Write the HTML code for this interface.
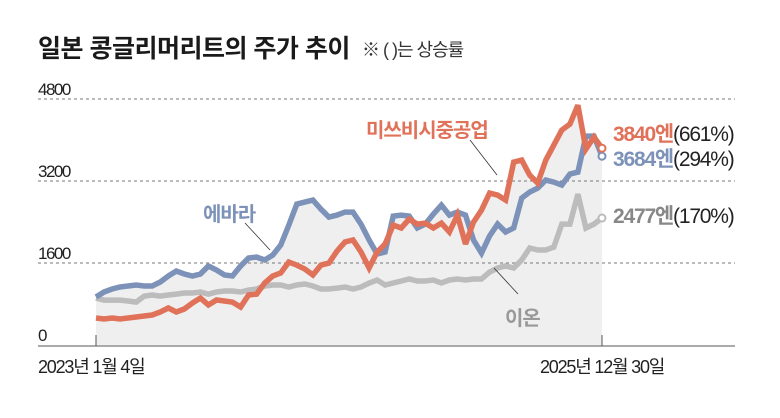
<!DOCTYPE html>
<html><head><meta charset="utf-8">
<style>
body{margin:0;background:#fff;}
svg{display:block;font-family:"Liberation Sans","Noto Sans CJK KR",sans-serif;}
</style></head>
<body>
<svg id="chart" width="780" height="418" viewBox="0 0 780 418" xmlns="http://www.w3.org/2000/svg">
<text x="38" y="57" font-size="25" font-weight="bold" fill="#1a1a1a" letter-spacing="-0.5">일본 콩글리머리트의 주가 추이</text>
<text x="362" y="56" font-size="18" fill="#333" letter-spacing="-1">※ ( )는 상승률</text>
<g id="plot"></g>
</svg>
<script>
const yTicks=[0,1600,3200,4800];
const dates=["2023년 1월 4일","2025년 12월 30일"];
// pixel-read stock values (yen), 64 samples over period
const ebara=[936,1034,1092,1131,1151,1170,1151,1151,1229,1346,1443,1385,1346,1385,1541,1463,1365,1346,1541,1697,1716,1658,1755,1950,2340,2750,2789,2828,2652,2496,2535,2594,2594,2360,2048,1775,1814,2516,2535,2516,2282,2360,2555,2730,2535,2594,2535,2048,1794,2126,2360,2204,2282,2867,2984,3062,3218,3179,3120,3335,3374,4076,4076,3684];
const mitsubishi=[526,507,526,507,526,546,565,585,644,722,644,702,819,917,780,878,858,838,741,975,994,1209,1346,1404,1618,1560,1482,1365,1560,1599,1833,2009,2048,1814,1502,1814,1970,2340,2282,2457,2360,2379,2282,2379,2204,2535,1970,2399,2633,2964,2925,2828,3569,3608,3315,3159,3608,3900,4193,4310,4680,3822,4056,3840];
const aeon=[916,877,877,877,858,838,955,975,955,975,994,1014,1014,1034,994,1034,1053,1053,1034,1072,1092,1151,1170,1170,1131,1170,1190,1151,1092,1092,1111,1131,1092,1131,1209,1268,1170,1209,1248,1287,1248,1248,1268,1209,1268,1287,1268,1287,1287,1424,1502,1541,1502,1658,1892,1853,1853,1911,2360,2360,2945,2282,2360,2477];
const seriesColors={ebara:"#7d92b8",mitsubishi:"#e0725a",aeon:"#bcbcbc"};

const svgNS="http://www.w3.org/2000/svg";
const plot=document.getElementById('plot');
const X0=96,X1=602,Y0=345,YTOP=99,VMAX=4800;
const n=ebara.length;
function xs(i){return X0+(X1-X0)*i/(n-1);}
function ys(v){return Y0-(Y0-YTOP)*v/VMAX;}
function mk(tag,attrs){const e=document.createElementNS(svgNS,tag);for(const k in attrs)e.setAttribute(k,attrs[k]);plot.appendChild(e);return e;}

let pts=[];
for(let i=0;i<n;i++)pts.push(xs(i)+","+ys(Math.max(ebara[i],mitsubishi[i])));
pts.push(xs(n-1)+","+Y0);pts.push(xs(0)+","+Y0);
const area=mk('polygon',{points:pts.join(' '),fill:"#efefef"});



yTicks.forEach(function(t){
  if(t>0){
    const g=mk('line',{x1:38,x2:735,y1:ys(t),y2:ys(t),stroke:"#777","stroke-width":1,"stroke-dasharray":"3,3"});
    
    
  }
  const tx=mk('text',{x:38,y:ys(t)-4,"font-size":17,fill:"#222","letter-spacing":"-1.5"});
  tx.textContent=t;
  
  
});
const ax=mk('line',{x1:38,x2:735,y1:Y0+1,y2:Y0+1,stroke:"#555","stroke-width":1});


[0,n-1].forEach(function(i){
  const tk=mk('line',{x1:xs(i),x2:xs(i),y1:Y0-10,y2:Y0+1,stroke:"#555","stroke-width":1});
  
  
});
const d1=mk('text',{x:38,y:373,"font-size":18,fill:"#222","letter-spacing":"-1.2"});d1.textContent=dates[0];


const d2=mk('text',{x:540,y:373,"font-size":18,fill:"#222","letter-spacing":"-1.2"});d2.textContent=dates[1];



function line(data,color,name){
  let d="";
  for(let i=0;i<n;i++)d+=(i?"L":"M")+xs(i).toFixed(1)+","+ys(data[i]).toFixed(1);
  const p=mk('path',{d:d,fill:"none",stroke:color,"stroke-width":5.5,"stroke-linejoin":"miter","stroke-miterlimit":3});
  
  
  const c=mk('circle',{cx:xs(n-1),cy:ys(data[n-1]),r:3.5,fill:"#fff",stroke:color,"stroke-width":2});
  
  
}
line(aeon,seriesColors.aeon,'aeon');
line(ebara,seriesColors.ebara,'ebara');
line(mitsubishi,seriesColors.mitsubishi,'mitsubishi');

function label(x,y,txt,color,size,name,weight){
  const t=mk('text',{x:x,y:y,"font-size":size,fill:color,"letter-spacing":"-1","font-weight":weight||"normal"});
  t.textContent=txt;
  
  
  return t;
}
function leader(x1,y1,x2,y2,name){
  const l=mk('line',{x1:x1,y1:y1,x2:x2,y2:y2,stroke:"#333","stroke-width":0.8});
  
  
}
label(203,221,"에바라","#7d92b8",20,'ebara-label','bold');
leader(245,223,270,250,'ebara-leader');
label(366,137,"미쓰비시중공업","#e0725a",20,'mitsubishi-label','bold');
leader(470,140,497,175,'mitsubishi-leader');
label(505,325,"이온","#999",20,'aeon-label','bold');
leader(494,268,518,294,'aeon-leader');

function endLabel(y,val,pct,color,name){
  const t=mk('text',{x:613,y:y,"font-size":21,"letter-spacing":"-1.2"});
  
  
  const a=document.createElementNS(svgNS,'tspan');a.setAttribute('fill',color);a.setAttribute('font-weight','bold');a.textContent=val;t.appendChild(a);
  const b=document.createElementNS(svgNS,'tspan');b.setAttribute('fill','#222');b.textContent=pct;t.appendChild(b);
}
endLabel(141,"3840엔","(661%)","#e0725a",'mitsubishi-end-label');
endLabel(166,"3684엔","(294%)","#7d92b8",'ebara-end-label');
endLabel(223,"2477엔","(170%)","#888",'aeon-end-label');
</script>
</body></html>
